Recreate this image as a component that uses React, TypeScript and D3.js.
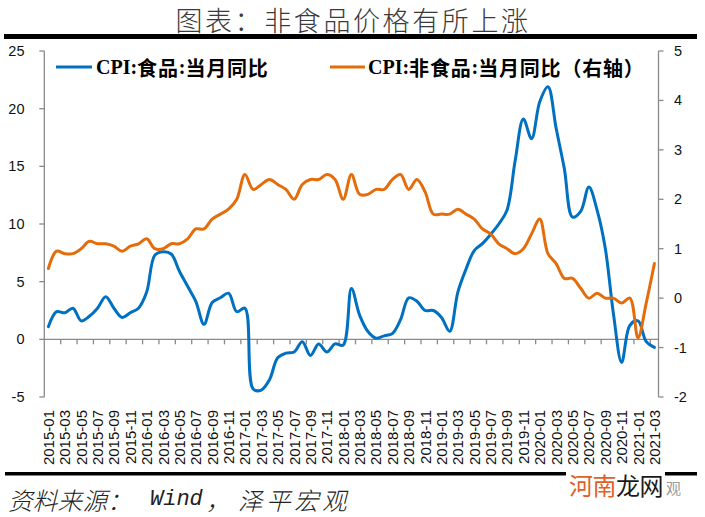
import React from 'react';
import * as d3 from 'd3';

const categories: string[] = [
  '2015-01','2015-02','2015-03','2015-04','2015-05','2015-06','2015-07','2015-08','2015-09','2015-10','2015-11','2015-12',
  '2016-01','2016-02','2016-03','2016-04','2016-05','2016-06','2016-07','2016-08','2016-09','2016-10','2016-11','2016-12',
  '2017-01','2017-02','2017-03','2017-04','2017-05','2017-06','2017-07','2017-08','2017-09','2017-10','2017-11','2017-12',
  '2018-01','2018-02','2018-03','2018-04','2018-05','2018-06','2018-07','2018-08','2018-09','2018-10','2018-11','2018-12',
  '2019-01','2019-02','2019-03','2019-04','2019-05','2019-06','2019-07','2019-08','2019-09','2019-10','2019-11','2019-12',
  '2020-01','2020-02','2020-03','2020-04','2020-05','2020-06','2020-07','2020-08','2020-09','2020-10','2020-11','2020-12',
  '2021-01','2021-02','2021-03',
];

// CPI: food, YoY (%) — left axis
const foodYoY: number[] = [
  1.1, 2.4, 2.3, 2.7, 1.6, 2.0, 2.7, 3.7, 2.7, 1.9, 2.3, 2.7,
  4.1, 7.3, 7.6, 7.4, 5.9, 4.6, 3.3, 1.3, 3.2, 3.6, 4.0, 2.4,
  2.7, -4.3, -4.4, -3.5, -1.6, -1.2, -1.1, -0.2, -1.4, -0.4, -1.1, -0.4,
  -0.5, 4.4, 2.1, 0.7, 0.1, 0.3, 0.5, 1.7, 3.6, 3.3, 2.5, 2.5,
  1.9, 0.7, 4.1, 6.1, 7.7, 8.3, 9.1, 10.0, 11.2, 15.5, 19.1, 17.4,
  20.6, 21.9, 18.3, 14.8, 10.6, 11.1, 13.2, 11.2, 7.9, 2.2, -2.0, 1.2,
  1.6, -0.2, -0.7,
];

// CPI: non-food, YoY (%) — right axis
const nonFoodYoY: number[] = [
  0.6, 0.95, 0.9, 0.9, 1.0, 1.15, 1.1, 1.1, 1.05, 0.95, 1.05, 1.1,
  1.2, 1.0, 1.0, 1.1, 1.1, 1.2, 1.4, 1.4, 1.6, 1.7, 1.8, 2.0,
  2.5, 2.2, 2.3, 2.4, 2.3, 2.2, 2.0, 2.3, 2.4, 2.4, 2.5, 2.4,
  2.0, 2.5, 2.1, 2.1, 2.2, 2.2, 2.4, 2.5, 2.2, 2.4, 2.15, 1.7,
  1.7, 1.7, 1.8, 1.7, 1.6, 1.4, 1.3, 1.1, 1.0, 0.9, 1.0, 1.3,
  1.6, 0.9, 0.7, 0.4, 0.4, 0.2, 0.0, 0.1, 0.0, 0.0, -0.1, 0.0,
  -0.8, -0.1, 0.7,
];

const leftTicks: number[] = [-5, 0, 5, 10, 15, 20, 25];
const rightTicks: number[] = [-2, -1, 0, 1, 2, 3, 4, 5];

const titleText = '图表：非食品价格有所上涨';

const W = 705;
const H = 517;
const PL = 44.3;
const PR = 658.5;
const PT = 51;
const PB = 397;

const BLUE = '#0070C0';
const ORANGE = '#E46C0A';
const AXIS = '#8a8a8a';

export default function App() {
  const x = d3.scaleBand<string>().domain(categories).range([PL, PR]).padding(0);
  const bw = x.bandwidth();
  const cx = (c: string) => (x(c) as number) + bw / 2;
  const yL = d3.scaleLinear().domain([-5, 25]).range([PB, PT]);
  const yR = d3.scaleLinear().domain([-2, 5]).range([PB, PT]);

  const lineFood = d3
    .line<number>()
    .x((_, i) => cx(categories[i]))
    .y((d) => yL(d))
    .curve(d3.curveCatmullRom.alpha(0.5));
  const lineNonFood = d3
    .line<number>()
    .x((_, i) => cx(categories[i]))
    .y((d) => yR(d))
    .curve(d3.curveCatmullRom.alpha(0.5));

  const y0 = yL(0);
  const tickBoundaries = categories.map((c, i) => ({ c, i })).filter((d) => d.i > 0 && d.i % 2 === 0);
  const labelCats = categories.filter((_, i) => i % 2 === 0);

  const axisFont = '"Liberation Sans", "DejaVu Sans", sans-serif';
  const cjkSans = '"Noto Sans CJK SC", "Noto Sans", sans-serif';
  const serif = '"Liberation Serif", serif';

  return (
    <svg
      width={W}
      height={H}
      viewBox={`0 0 ${W} ${H}`}
      style={{ position: 'absolute', left: 0, top: 0, display: 'block', background: '#fff' }}
    >
      <rect x={0} y={0} width={W} height={H} fill="#fff" />
      {/* Title */}
      <text
        x={353}
        y={19}
        textAnchor="middle"
        dominantBaseline="central"
        fontFamily={cjkSans}
        fontWeight={300}
        fontSize={27}
        letterSpacing={2.6}
        fill="#3a3a3a"
      >
        {titleText}
      </text>
      <rect x={4} y={34} width={693} height={5} fill="#000" />

      {/* Left axis */}
      <line x1={PL} y1={PT} x2={PL} y2={PB} stroke={AXIS} strokeWidth={1.3} />
      {leftTicks.map((t) => (
        <g key={'l' + t}>
          <line x1={PL - 5} x2={PL} y1={yL(t)} y2={yL(t)} stroke={AXIS} strokeWidth={1.3} />
          <text
            x={24.5}
            y={yL(t)}
            textAnchor="end"
            dominantBaseline="central"
            fontFamily={axisFont}
            fontSize={14.5}
            fill="#111"
          >
            {t}
          </text>
        </g>
      ))}

      {/* Right axis */}
      <line x1={PR} y1={PT} x2={PR} y2={PB} stroke={AXIS} strokeWidth={1.3} />
      {rightTicks.map((t) => (
        <g key={'r' + t}>
          <line x1={PR} x2={PR + 5} y1={yR(t)} y2={yR(t)} stroke={AXIS} strokeWidth={1.3} />
          <text
            x={674}
            y={yR(t)}
            textAnchor="start"
            dominantBaseline="central"
            fontFamily={axisFont}
            fontSize={14.5}
            fill="#111"
          >
            {t}
          </text>
        </g>
      ))}

      {/* X axis at zero */}
      <line x1={PL} x2={PR} y1={y0} y2={y0} stroke={AXIS} strokeWidth={1.3} />
      {tickBoundaries.map((d) => (
        <line
          key={'xt' + d.i}
          x1={x(d.c) as number}
          x2={x(d.c) as number}
          y1={y0}
          y2={y0 + 5}
          stroke={AXIS}
          strokeWidth={1.3}
        />
      ))}
      {labelCats.map((c) => (
        <text
          key={'xl' + c}
          transform={`translate(${cx(c)},410) rotate(-90)`}
          textAnchor="end"
          dominantBaseline="central"
          fontFamily={axisFont}
          fontSize={15}
          fill="#111"
        >
          {c}
        </text>
      ))}

      {/* Series */}
      <path d={lineFood(foodYoY) || ''} fill="none" stroke={BLUE} strokeWidth={3} strokeLinejoin="round" strokeLinecap="round" />
      <path d={lineNonFood(nonFoodYoY) || ''} fill="none" stroke={ORANGE} strokeWidth={3} strokeLinejoin="round" strokeLinecap="round" />

      {/* Legend */}
      <line x1={56} x2={92} y1={67} y2={67} stroke={BLUE} strokeWidth={3} />
      <text x={96} y={67} dominantBaseline="central" fontSize={20} fontWeight="bold" fill="#000">
        <tspan fontFamily={serif}>CPI:</tspan>
        <tspan fontFamily={cjkSans} letterSpacing={0.8}>食品</tspan>
        <tspan fontFamily={serif}>:</tspan>
        <tspan fontFamily={cjkSans} letterSpacing={0.8}>当月同比</tspan>
      </text>
      <line x1={330} x2={365} y1={67} y2={67} stroke={ORANGE} strokeWidth={3} />
      <text x={368} y={67} dominantBaseline="central" fontSize={20} fontWeight="bold" fill="#000">
        <tspan fontFamily={serif}>CPI:</tspan>
        <tspan fontFamily={cjkSans} letterSpacing={0.8}>非食品</tspan>
        <tspan fontFamily={serif}>:</tspan>
        <tspan fontFamily={cjkSans} letterSpacing={0.8}>当月同比（右轴）</tspan>
      </text>

      {/* Bottom rule and source */}
      <rect x={5} y={472} width={692} height={3.5} fill="#000" />
      <g fontFamily={cjkSans} fontWeight={300} fontStyle="italic" fontSize={24.5} fill="#222">
        <text x={8} y={499} dominantBaseline="central" letterSpacing={0.3}>资料来源：</text>
        <text
          x={150}
          y={499}
          dominantBaseline="central"
          fontFamily='"Liberation Mono", "DejaVu Sans Mono", monospace'
          fontSize={22}
        >
          Wind
        </text>
        <text x={206} y={499} dominantBaseline="central">，</text>
        <text x={238} y={499} dominantBaseline="central" letterSpacing={3.5}>泽平宏观</text>
      </g>

      {/* Watermark */}
      <rect x={566} y={469} width={99} height={28} fill="#fff" />
      <text x={569} y={484} dominantBaseline="central" fontFamily={cjkSans} fontSize={24} letterSpacing={-0.5}>
        <tspan fill="#E0602A">河南</tspan>
        <tspan fill="#1a1a1a">龙网</tspan>
      </text>
      <text x={666} y={487} dominantBaseline="central" fontFamily={cjkSans} fontSize={15} fill="#9a9a9a">
        观
      </text>
    </svg>
  );
}
